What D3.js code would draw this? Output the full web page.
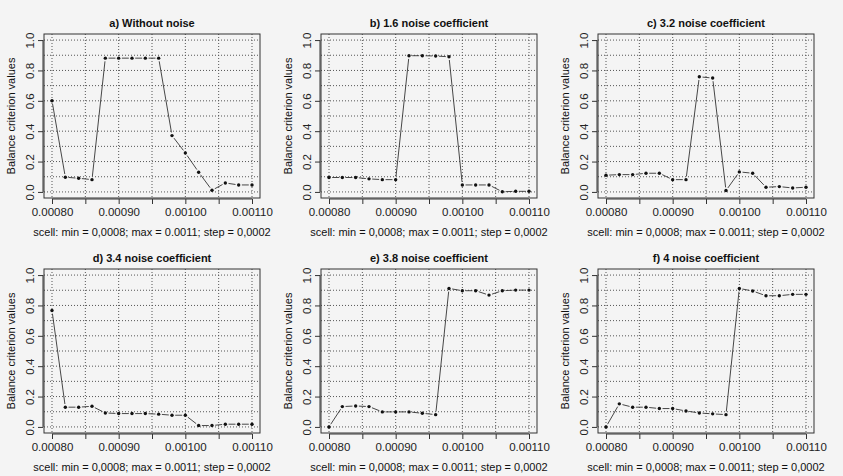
<!DOCTYPE html>
<html>
<head>
<meta charset="utf-8">
<script src="https://cdn.jsdelivr.net/npm/d3@7"></script>
<style>
  body { margin: 0; background: #f4f4f4; }
  svg { display: block; font-family: "Liberation Sans", Arial, sans-serif; }
  .grid line { stroke: #555; stroke-width: 1; stroke-dasharray: 1,2; }
</style>
</head>
<body>
<svg id="chart"></svg>
<script>
// scell values (x)
const scell = [0.00080, 0.00082, 0.00084, 0.00086, 0.00088, 0.00090, 0.00092, 0.00094,
               0.00096, 0.00098, 0.00100, 0.00102, 0.00104, 0.00106, 0.00108, 0.00110];

// balance criterion values, one array per panel
const withoutNoise = [0.60, 0.097, 0.090, 0.081, 0.881, 0.881, 0.881, 0.881,
                      0.881, 0.371, 0.257, 0.130, 0.011, 0.059, 0.046, 0.046];
const noise16 = [0.095, 0.095, 0.095, 0.086, 0.081, 0.081, 0.897, 0.897,
                 0.895, 0.890, 0.046, 0.046, 0.046, 0.001, 0.004, 0.004];
const noise32 = [0.110, 0.114, 0.114, 0.123, 0.123, 0.081, 0.081, 0.758,
                 0.750, 0.009, 0.132, 0.123, 0.031, 0.035, 0.026, 0.031];
const noise34 = [0.767, 0.130, 0.130, 0.136, 0.092, 0.088, 0.088, 0.088,
                 0.084, 0.077, 0.077, 0.009, 0.009, 0.018, 0.018, 0.018];
const noise38 = [0.000, 0.134, 0.138, 0.134, 0.099, 0.099, 0.099, 0.090,
                 0.081, 0.912, 0.897, 0.897, 0.868, 0.897, 0.901, 0.901];
const noise4 = [0.000, 0.152, 0.130, 0.130, 0.121, 0.121, 0.105, 0.092,
                0.086, 0.081, 0.912, 0.895, 0.864, 0.864, 0.873, 0.873];

const titles = ["a) Without noise", "b) 1.6 noise coefficient", "c) 3.2 noise coefficient",
                "d) 3.4 noise coefficient", "e) 3.8 noise coefficient", "f) 4 noise coefficient"];
const series = [withoutNoise, noise16, noise32, noise34, noise38, noise4];

const xTicks = [0.00080, 0.00085, 0.00090, 0.00095, 0.00100, 0.00105, 0.00110];
const xLabelled = [0.00080, 0.00090, 0.00100, 0.00110];
const yTicks = [0, 0.2, 0.4, 0.6, 0.8, 1.0];
const yGrid = [0, 0.1, 0.2, 0.3, 0.4, 0.5, 0.6, 0.7, 0.8, 0.9, 1.0];
const xTitle = "scell: min = 0,0008; max = 0.0011; step = 0,0002";
const yTitle = "Balance criterion values";

const W = 843, H = 476;
const svg = d3.select("#chart").attr("width", W).attr("height", H);

// panel boxes (plot region) by column / row
const colLeft = [44, 321, 598];
const rowTop = [34, 269];
const boxW = 216, boxH = 164;

series.forEach((vals, k) => {
    const col = k % 3, row = Math.floor(k / 3);
    const g = svg.append("g")
        .attr("transform", `translate(${colLeft[col]}, ${rowTop[row]})`);

    // R style 4% padding on both axes
    const xPad = (0.00110 - 0.00080) * 0.04;
    const x = d3.scaleLinear().domain([0.00080 - xPad, 0.00110 + xPad]).range([0, boxW]);
    const y = d3.scaleLinear().domain([-0.04, 1.04]).range([boxH, 0]);

    // grid
    const grid = g.append("g").attr("class", "grid");
    grid.selectAll(".gx").data(xTicks).enter().append("line")
        .attr("x1", d => x(d)).attr("x2", d => x(d))
        .attr("y1", 0).attr("y2", boxH);
    grid.selectAll(".gy").data(yGrid).enter().append("line")
        .attr("x1", 0).attr("x2", boxW)
        .attr("y1", d => y(d)).attr("y2", d => y(d));

    // lines like type = "b": segments with gaps round the points
    const pts = vals.map((v, i) => [x(scell[i]), y(v)]);
    const gap = 3.2;
    const segs = [];
    for (let i = 0; i < pts.length - 1; i++) {
        const [x1, y1] = pts[i], [x2, y2] = pts[i + 1];
        const len = Math.hypot(x2 - x1, y2 - y1);
        if (len <= 2 * gap) continue;
        const ux = (x2 - x1) / len, uy = (y2 - y1) / len;
        segs.push([x1 + ux * gap, y1 + uy * gap, x2 - ux * gap, y2 - uy * gap]);
    }
    g.selectAll(".seg").data(segs).enter().append("line")
        .attr("x1", d => d[0]).attr("y1", d => d[1])
        .attr("x2", d => d[2]).attr("y2", d => d[3])
        .attr("stroke", "#333").attr("stroke-width", 0.9);

    g.selectAll(".pt").data(vals).enter().append("circle")
        .attr("cx", (d, i) => x(scell[i]))
        .attr("cy", d => y(d))
        .attr("r", 1.7)
        .attr("fill", "#111");

    // box
    g.append("rect")
        .attr("width", boxW).attr("height", boxH)
        .attr("fill", "none").attr("stroke", "#333").attr("stroke-width", 1);

    // x axis
    const xAxis = d3.axisBottom(x)
        .tickValues(xTicks)
        .tickSize(5)
        .tickPadding(4)
        .tickFormat(d => xLabelled.some(v => Math.abs(v - d) < 1e-9) ? d3.format(".5f")(d) : "");
    const ax = g.append("g").attr("transform", `translate(0, ${boxH + 1})`).call(xAxis);
    ax.select(".domain")
        .attr("d", `M${x(0.00080)},0H${x(0.00110)}`)
        .attr("stroke", "#333");
    ax.selectAll(".tick line").attr("stroke", "#333");
    ax.selectAll("text").attr("font-size", "11.5px").attr("fill", "#222");

    // y axis, labels turned like R default
    const yAxis = d3.axisLeft(y).tickValues(yTicks).tickSize(5).tickFormat(d3.format(".1f"));
    const ay = g.append("g").attr("transform", "translate(-1, 0)").call(yAxis);
    ay.select(".domain").attr("d", `M0,${y(0)}V${y(1)}`).attr("stroke", "#333");
    ay.selectAll(".tick line").attr("stroke", "#333");
    ay.selectAll("text")
        .attr("x", null).attr("dy", "0.35em")
        .attr("transform", "translate(-13, 0) rotate(-90)")
        .attr("text-anchor", "middle")
        .attr("font-size", "11.5px").attr("fill", "#222");

    // titles
    g.append("text")
        .attr("x", boxW / 2).attr("y", -7)
        .attr("text-anchor", "middle")
        .attr("font-size", "11px").attr("font-weight", "bold").attr("fill", "#111")
        .text(titles[k]);
    g.append("text")
        .attr("x", boxW / 2).attr("y", boxH + 38)
        .attr("text-anchor", "middle")
        .attr("font-size", "11px").attr("fill", "#111")
        .text(xTitle);
    g.append("text")
        .attr("transform", `translate(-29, ${boxH / 2}) rotate(-90)`)
        .attr("text-anchor", "middle")
        .attr("font-size", "11px").attr("fill", "#111")
        .text(yTitle);
});
</script>
</body>
</html>
